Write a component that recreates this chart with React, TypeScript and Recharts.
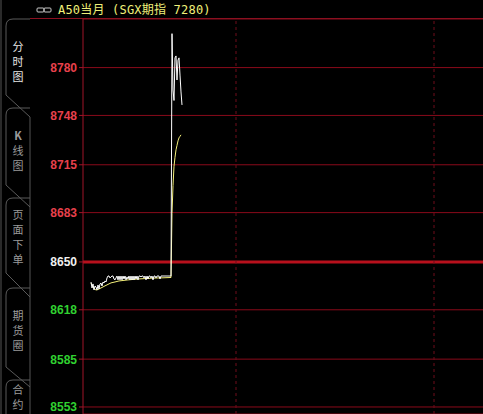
import React from "react";
import { ComposedChart, Line, XAxis, YAxis, CartesianGrid, ReferenceLine } from "recharts";

const yTicks = [8553, 8585, 8618, 8650, 8683, 8715, 8748, 8780];
const prevClose = 8650;
const sessionMarks = [153, 351];

const priceTimes = [8, 9, 10, 11, 12, 13, 14, 15, 16, 17, 18, 19, 20, 21, 22, 23, 24, 25, 26, 27, 28, 29, 30, 31, 32, 33, 34, 35, 36, 37, 38, 39, 40, 41, 42, 43, 44, 45, 46, 47, 48, 49, 50, 51, 52, 53, 54, 55, 56, 57, 58, 59, 60, 61, 62, 63, 64, 65, 66, 67, 68, 69, 70, 71, 72, 73, 74, 75, 76, 77, 78, 79, 80, 81, 82, 83, 84, 85, 86, 87, 88, 89, 90, 91, 92, 93, 94, 95, 96, 97, 98, 99];
const priceValues = [8636.6, 8632.6, 8635.3, 8631.3, 8633.9, 8633.3, 8631.3, 8634.6, 8631.9, 8635.3, 8635.9, 8633.9, 8636.6, 8635.9, 8637.3, 8636.6, 8639.3, 8640.6, 8640.6, 8639.3, 8640.0, 8640.6, 8640.6, 8638.6, 8638.0, 8639.3, 8640.6, 8638.0, 8640.6, 8638.0, 8640.6, 8638.0, 8640.6, 8638.6, 8640.6, 8638.0, 8640.0, 8638.6, 8640.6, 8638.0, 8640.6, 8638.0, 8640.6, 8638.0, 8640.6, 8638.6, 8640.6, 8638.0, 8640.6, 8640.6, 8640.0, 8640.6, 8640.6, 8639.3, 8640.6, 8638.0, 8640.6, 8638.6, 8640.6, 8640.6, 8639.3, 8640.6, 8638.0, 8640.6, 8640.6, 8639.3, 8640.6, 8640.6, 8640.6, 8638.6, 8640.6, 8640.6, 8640.6, 8640.6, 8640.6, 8640.6, 8640.6, 8640.6, 8640.6, 8640.6, 8640.6, 8802.7, 8765.0, 8758.0, 8786.5, 8787.8, 8771.7, 8785.0, 8786.5, 8775.0, 8763.7, 8755.0];

const avgTimes = [8, 9, 10, 11, 12, 13, 14, 15, 16, 17, 18, 20, 22, 25, 28, 32, 36, 40, 45, 50, 55, 60, 65, 70, 75, 80, 88, 89, 90, 91, 92, 93, 94, 95, 96, 97, 98];
const avgValues = [8635.9, 8634.6, 8633.3, 8632.0, 8631.6, 8631.3, 8631.3, 8631.6, 8631.9, 8632.3, 8632.6, 8633.3, 8634.0, 8635.0, 8636.0, 8636.6, 8637.3, 8637.6, 8638.0, 8638.3, 8638.6, 8638.8, 8639.0, 8639.2, 8639.3, 8639.4, 8639.6, 8682.5, 8701.0, 8714.0, 8720.0, 8725.0, 8728.0, 8731.0, 8733.0, 8734.0, 8735.0];

const tabs = [
  { chars: ["分", "时", "图"], ys: [47, 62, 77], active: true },
  { chars: ["K", "线", "图"], ys: [136, 151, 166], active: false },
  { chars: ["页", "面", "下", "单"], ys: [215, 230, 245, 260], active: false },
  { chars: ["期", "货", "圈"], ys: [316, 331, 346], active: false },
  { chars: ["合", "约"], ys: [390, 405], active: false },
];
const tabTops = [19, 108, 198, 288, 380];
const tabDiags = [[95, 117], [185, 207], [273, 297], [367, 387]];

const priceData = priceTimes.map((t, i) => ({ t, v: priceValues[i] }));
const avgData = avgTimes.map((t, i) => ({ t, v: avgValues[i] }));

const YTick = (props: any) => {
  const { y, payload } = props;
  const v = payload.value;
  const color = v > prevClose ? "#e8404c" : v < prevClose ? "#30d030" : "#f0f0f0";
  return (
    <text x={77} y={y} dy={4.5} textAnchor="end" fill={color} fontSize={12} fontWeight="bold" fontFamily="Liberation Sans, Arial, sans-serif">
      {v}
    </text>
  );
};

const Sidebar = () => (
  <svg width={40} height={414} style={{ position: "absolute", left: 0, top: 0 }}>
    <rect x={0} y={0} width={2} height={414} fill="#2a2a2a" />
    <line x1={30} y1={117} x2={30} y2={414} stroke="#555" />
    {tabTops.map((top, i) => {
      const bottom = i < tabDiags.length ? tabDiags[i][0] : 414;
      return (
        <g key={i}>
          <path d={`M6,${bottom} L6,${top + 7} Q6,${top} 13,${top} L30,${top}`} fill="none" stroke="#5a5a5a" />
          {i < tabDiags.length && (
            <line x1={6} y1={tabDiags[i][0]} x2={30} y2={tabDiags[i][1]} stroke="#5a5a5a" />
          )}
        </g>
      );
    })}
    {tabs.map((tab, i) =>
      tab.chars.map((c, j) => (
        <text key={i + "-" + j} x={18} y={tab.ys[j]} dy={4} textAnchor="middle" fontSize={11}
          fontFamily="Noto Sans CJK SC, sans-serif" fill={tab.active ? "#e8e8e8" : "#9a9a9a"}
          fontWeight={c === "K" ? "bold" : "normal"}>
          {c}
        </text>
      ))
    )}
  </svg>
);

export default function App() {
  return (
    <div style={{ position: "absolute", left: 0, top: 0, width: 483, height: 414, background: "#000", overflow: "hidden" }}>
      <ComposedChart width={483} height={414} data={priceData} margin={{ top: 19, right: 0, bottom: 0, left: 0 }}>
        <XAxis dataKey="t" type="number" domain={[0, 400]} hide allowDataOverflow />
        <YAxis type="number" domain={[8548.3, 8812.5]} ticks={yTicks} width={83} allowDataOverflow
          axisLine={{ stroke: "#a01428" }} tickLine={{ stroke: "#a01428" }} tickSize={4} tick={<YTick />} interval={0} />
        <CartesianGrid vertical={false} stroke="#8a0a1a" strokeDasharray="" />
        <ReferenceLine y={prevClose} stroke="#b8101c" strokeWidth={3} />
        {sessionMarks.map((m) => (
          <ReferenceLine key={m} x={m} stroke="#6e0c1a" strokeDasharray="3 3" />
        ))}
        <Line data={avgData} dataKey="v" type="linear" stroke="#f4f07a" strokeWidth={1} dot={false} isAnimationActive={false} />
        <Line data={priceData} dataKey="v" type="linear" stroke="#ffffff" strokeWidth={1} dot={false} isAnimationActive={false} />
      </ComposedChart>
      <div style={{ position: "absolute", left: 30, top: 18, width: 453, height: 1, background: "#8c1020" }} />
      <Sidebar />
      <svg width={20} height={20} style={{ position: "absolute", left: 35, top: 1 }}>
        <rect x={2} y={7} width={7} height={4} rx={1} fill="none" stroke="#c8c8c8" />
        <rect x={9} y={7} width={7} height={4} rx={1} fill="none" stroke="#c8c8c8" />
      </svg>
      <div style={{ position: "absolute", left: 58, top: 2, fontSize: 12, letterSpacing: "0.2px", fontFamily: "DejaVu Sans Mono, Noto Sans CJK SC, monospace", color: "#f0f07a", whiteSpace: "pre", lineHeight: "16px" }}>
        A50当月 (SGX期指 7280)
      </div>
    </div>
  );
}
